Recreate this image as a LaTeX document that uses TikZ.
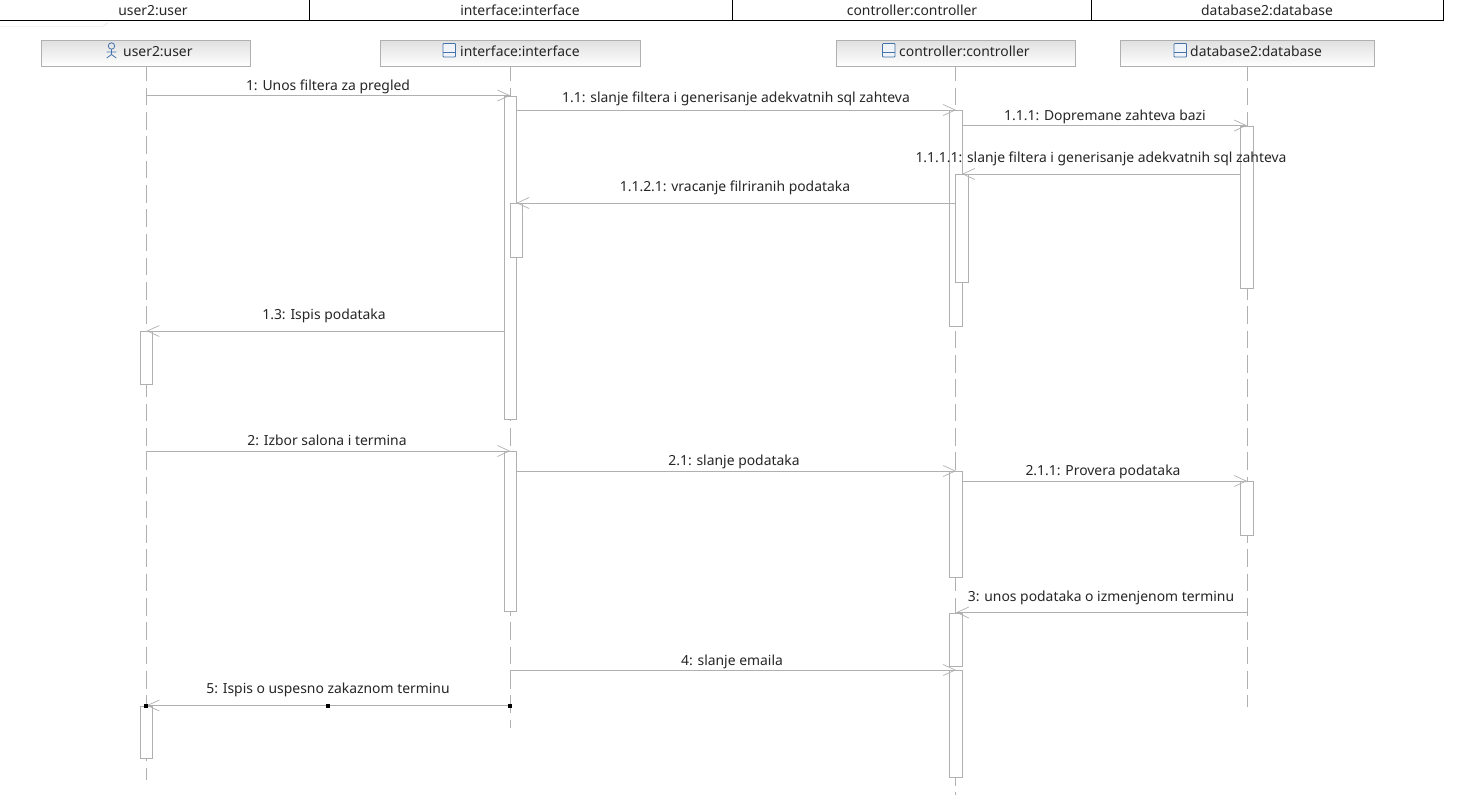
\documentclass[tikz,border=0pt]{standalone}
\usepackage{fontspec}
\setmainfont{Noto Sans}
\usetikzlibrary{arrows.meta}
\definecolor{ln}{RGB}{176,176,176}
\definecolor{hd}{RGB}{224,224,224}
\definecolor{iconblue}{RGB}{70,115,170}
\tikzset{
 x=1pt,y=-1pt,
 txt/.style={font=\fontsize{13.9}{16}\selectfont,text=black!85,inner sep=0pt,anchor=base},
 head/.style={draw=ln,line width=1pt,top color=hd,bottom color=white,minimum height=26pt,anchor=north west,inner sep=0pt},
 tab/.style={draw=black,line width=1pt,minimum height=22pt,anchor=north west,inner sep=0pt},
 bar/.style={draw=ln,line width=1pt,fill=white,minimum width=12.5pt,anchor=north,inner sep=0pt},
 life/.style={draw=ln,line width=1pt,dash pattern=on 17.6pt off 6.7pt,dash phase=3.6pt},
 msg/.style={draw=ln,line width=1pt,-{Straight Barb[length=12pt,width=11pt,line width=.7pt]}},
 hand/.style={fill=black,minimum size=4pt,inner sep=0pt,draw=none},
}
\newcommand{\Bar}[4]{\node[bar,minimum height=#4-#3] (#1) at (#2,#3) {};}
\begin{document}
\begin{tikzpicture}
\useasboundingbox (0,0) rectangle (1466,796);
\fill[white] (0,0) rectangle (1466,796);
% table head
\node[tab,minimum width=311pt] (t1) at (-2,-2) {};
\node[tab,minimum width=423pt] (t2) at (309,-2) {};
\node[tab,minimum width=359pt] (t3) at (732,-2) {};
\node[tab,minimum width=352pt] (t4) at (1091,-2) {};
\node[txt] (t1l) at (153,15) {user2:user};
\node[txt] (t2l) at (520,15) {interface:interface};
\node[txt] (t3l) at (912,15) {controller:controller};
\node[txt] (t4l) at (1267,15) {database2:database};
\draw[black!12] (0,26.5) -- (103,26.5) -- (108,22.5);
% lifeline heads
\node[head,minimum width=209pt] (u) at (41,40) {};
\node[head,minimum width=260pt] (i) at (380,40) {};
\node[head,minimum width=239pt] (c) at (836,40) {};
\node[head,minimum width=254pt] (d) at (1120,40) {};
\node[txt,anchor=base west] (ul) at (123,56) {user2:user};
\node[txt,anchor=base west] (il) at (460,56) {interface:interface};
\node[txt,anchor=base west] (cl) at (899,56) {controller:controller};
\node[txt,anchor=base west] (dl) at (1190,56) {database2:database};
% icons
\begin{scope}[draw=iconblue,line width=.8pt]
\draw (111.5,46) circle (3.2);
\draw (111.5,49.2) -- (111.5,54.5) -- (106.7,58) (111.5,54.5) -- (116.3,58) (106.7,52) -- (116.3,52);
\foreach \x in {443,882.5,1174}{
 \draw[rounded corners=.8pt,fill=iconblue!8] (\x,43.5) rectangle ++(12.5,13.5);
 \draw (\x,52.5) -- ++(12.5,0);
}
\end{scope}
% lifelines
\coordinate (ue) at (146.3,780);
\coordinate (ie) at (510,728);
\coordinate (ce) at (955.5,795);
\coordinate (de) at (1247.5,707);
\draw[life] (u.south -| ue) -- (ue);
\draw[life] (i.south -| ie) -- (ie);
\draw[life] (c.south -| ce) -- (ce);
\draw[life] (d.south -| de) -- (de);
% bars
\Bar{i1}{510.3}{95.5}{419}
\Bar{i2}{516.3}{203}{257}
\Bar{i3}{510.3}{451}{611}
\Bar{c1}{956}{110}{326}
\Bar{c2}{962}{174}{282}
\Bar{c3}{956}{471}{577}
\Bar{c4}{956}{612.5}{666}
\Bar{c5}{956}{670}{777}
\Bar{d1}{1247}{125.5}{288}
\Bar{d2}{1247}{481}{535}
\Bar{u1}{146.5}{331}{384}
\Bar{u2}{146.5}{705.5}{758}
% message free ends
\coordinate (m1a) at (146,95.5);
\coordinate (m7a) at (146,451);
\coordinate (m4a) at (510,670);
\coordinate (m5a) at (510,705.5);
\coordinate (m3a) at (1247.5,612.5);
% messages
\draw[msg] (m1a) -- (i1.north);
\draw[msg] (i1.east |- c1.north) -- (c1.north);
\draw[msg] (c1.east |- d1.north) -- (d1.north);
\draw[msg] (d1.west |- c2.north) -- (c2.north);
\draw[msg] (c2.west |- i2.north) -- (i2.north);
\draw[msg] (i1.west |- u1.north) -- (u1.north);
\draw[msg] (m7a) -- (i3.north);
\draw[msg] (i3.east |- c3.north) -- (c3.north);
\draw[msg] (c3.east |- d2.north) -- (d2.north);
\draw[msg] (m3a) -- (c4.north);
\draw[msg] (m4a) -- (c5.north);
\draw[msg] (m5a) -- (u2.north);
% labels
\node[txt] (n1) at (328,90) {1: Unos filtera za pregled};
\node[txt] (n2) at (736,102) {1.1: slanje filtera i generisanje adekvatnih sql zahteva};
\node[txt] (n3) at (1105,120) {1.1.1: Dopremane zahteva bazi};
\node[txt] (n4) at (1101,162) {1.1.1.1: slanje filtera i generisanje adekvatnih sql zahteva};
\node[txt] (n5) at (735,191) {1.1.2.1: vracanje filriranih podataka};
\node[txt] (n6) at (324,319) {1.3: Ispis podataka};
\node[txt] (n7) at (327,445) {2: Izbor salona i termina};
\node[txt] (n8) at (734,465) {2.1: slanje podataka};
\node[txt] (n9) at (1103,475) {2.1.1: Provera podataka};
\node[txt] (n10) at (1101,601) {3: unos podataka o izmenjenom terminu};
\node[txt] (n11) at (732,665) {4: slanje emaila};
\node[txt] (n12) at (328,693) {5: Ispis o uspesno zakaznom terminu};
% selection handles
\node[hand] (h1) at (146,705.5) {};
\node[hand] (h2) at (328,705.5) {};
\node[hand] (h3) at (510,705.5) {};
\end{tikzpicture}
\end{document}
